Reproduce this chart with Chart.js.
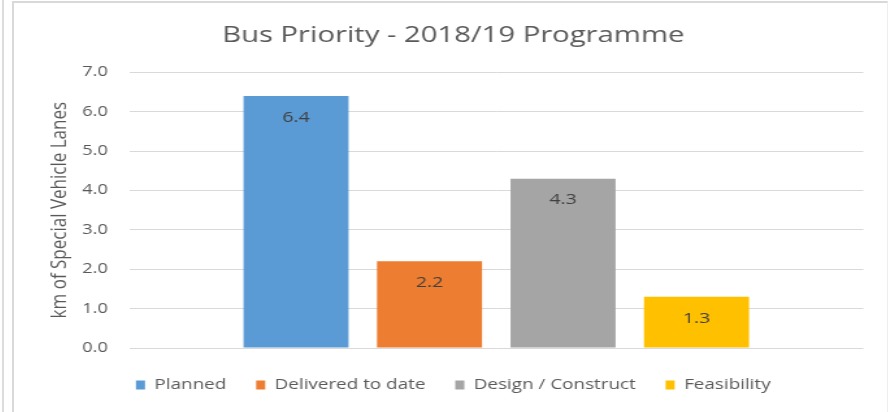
<!DOCTYPE html>
<html><head><meta charset="utf-8">
<script src="https://cdn.jsdelivr.net/npm/chart.js@4.4.1/dist/chart.umd.min.js"></script>
<style>
html,body{margin:0;padding:0;background:#fff;width:888px;height:412px;overflow:hidden;position:relative}
#outer{position:absolute;left:2px;top:0;width:2px;height:412px;background:#dcdcdc}
#frame{position:absolute;left:12px;top:1px;width:873px;height:420px;border-left:2px solid #d9d9d9;border-top:2px solid #d9d9d9;border-right:1px solid #eeeeee}
#c{position:absolute;left:14px;top:4px;width:872px;height:408px}
</style></head><body>
<div id="outer"></div><div id="frame"></div>
<canvas id="c" width="671" height="408" style="width:872px;height:408px"></canvas>
<script>
const categories = ['Planned', 'Delivered to date', 'Design / Construct', 'Feasibility'];
const values = [6.4, 2.2, 4.3, 1.3];
const colors = ['#5B9BD5', '#ED7D31', '#A5A5A5', '#FFC000'];
const yTicks = [0, 1, 2, 3, 4, 5, 6, 7];
const titleText = 'Bus Priority - 2018/19 Programme';
const yTitle = 'km of Special Vehicle Lanes';

Chart.defaults.font.family = "'Open Sans', sans-serif";
Chart.defaults.color = '#595959';

const valueLabels = {
  id: 'valueLabels',
  afterDatasetsDraw(chart) {
    const ctx = chart.ctx;
    ctx.save();
    ctx.font = "15px 'Open Sans', sans-serif";
    ctx.fillStyle = '#404040';
    ctx.textAlign = 'center';
    ctx.textBaseline = 'middle';
    chart.data.datasets.forEach((ds, i) => {
      chart.getDatasetMeta(i).data.forEach((bar, j) => {
        ctx.fillText(ds.data[j].toFixed(1), bar.x, bar.y + 21.5);
      });
    });
    ctx.restore();
  }
};

new Chart(document.getElementById('c'), {
  type: 'bar',
  data: {
    labels: [''],
    datasets: categories.map((c, i) => ({
      label: c,
      data: [values[i]],
      backgroundColor: colors[i],
      borderWidth: 0,
      categoryPercentage: 0.7275,
      barPercentage: 0.787
    }))
  },
  options: {
    responsive: false,
    animation: false,
    devicePixelRatio: 1,
    layout: { padding: { left: 5, right: 0, top: 0, bottom: 9.75 } },
    plugins: {
      title: {
        display: true,
        text: titleText,
        color: '#595959',
        font: { size: 22.5, weight: 'normal' },
        padding: { top: 18, bottom: 23.3 }
      },
      legend: {
        position: 'bottom',
        labels: {
          boxWidth: 7,
          boxHeight: 9,
          padding: 23,
          color: '#595959',
          font: { size: 14.5 }
        }
      },
      tooltip: { enabled: false }
    },
    scales: {
      x: {
        display: true,
        grid: { display: false },
        border: { display: false },
        ticks: { display: false },
        afterFit: s => { s.height = 6.75; }
      },
      y: {
        min: 0,
        max: 7,
        afterBuildTicks: s => { s.ticks = yTicks.map(v => ({ value: v })); },
        afterFit: s => { s.width = 83.7; },
        grid: { color: '#d9d9d9', lineWidth: 1, drawTicks: false },
        border: { display: false },
        ticks: {
          padding: 16.5,
          color: '#595959',
          font: { size: 14 },
          callback: v => Number(v).toFixed(1)
        },
        title: {
          display: true,
          text: yTitle,
          color: '#595959',
          font: { size: 17 },
          padding: { top: 20, bottom: 0 }
        }
      },
      yRight: {
        position: 'right',
        display: true,
        grid: { display: false },
        border: { display: false },
        ticks: { display: false },
        afterFit: s => { s.width = 17.5; }
      }
    }
  },
  plugins: [valueLabels]
});
</script>
</body></html>
